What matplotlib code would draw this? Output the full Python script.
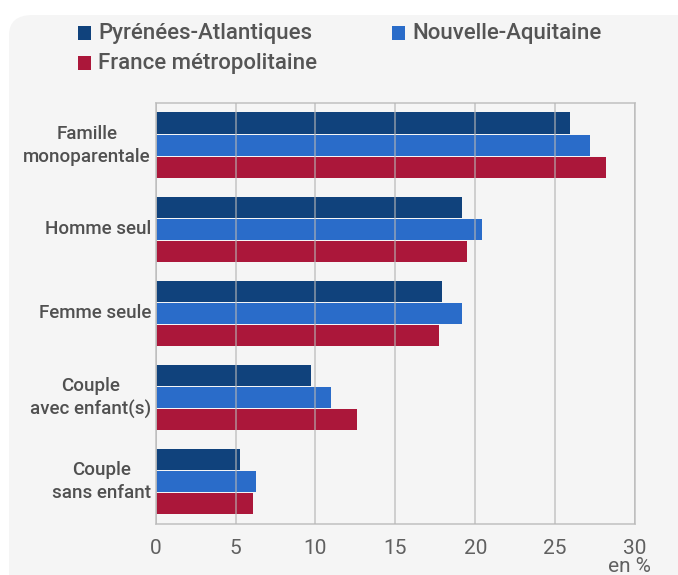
import matplotlib
matplotlib.use("Agg")
import matplotlib.pyplot as plt
from matplotlib.patches import FancyBboxPatch
import numpy as np

categories = ["Famille\nmonoparentale", "Homme seul", "Femme seule",
              "Couple\navec enfant(s)", "Couple\nsans enfant"]
series = ["Pyrénées-Atlantiques", "Nouvelle-Aquitaine", "France métropolitaine"]
pyr_atl = [25.9, 19.2, 17.9, 9.7, 5.3]
nouv_aq = [27.2, 20.4, 19.2, 11.0, 6.3]
france = [28.2, 19.5, 17.7, 12.6, 6.1]
colors = ["#10427c", "#2a6cc9", "#ab173a"]
xticks = [0, 5, 10, 15, 20, 25, 30]

plt.rcParams["font.family"] = ["Roboto", "DejaVu Sans"]

fig = plt.figure(figsize=(6.78, 5.75), dpi=100)
fig.patch.set_facecolor("white")
bg = FancyBboxPatch((9 / 678, -0.05), 1.2, 1.0 - 15 / 575 + 0.05,
                    boxstyle="round,pad=0,rounding_size=0.035",
                    transform=fig.transFigure, facecolor="#f5f5f5",
                    edgecolor="none", zorder=-5)
fig.patches.append(bg)

ax = fig.add_axes([0.2297, 0.0887, 0.7069, 0.7322])
ax.set_zorder(2)
ax.set_facecolor("#f5f5f5")

y = np.arange(len(categories))
h = 0.25
step = 0.262
for i, (vals, c) in enumerate(zip([pyr_atl, nouv_aq, france], colors)):
    ax.barh(y + (i - 1) * step, vals, height=h, color=c, zorder=2, label=series[i])

ax.set_xlim(0, 30)
ax.set_ylim(4.5, -0.5)
ax.set_xticks(xticks)
ax.xaxis.grid(True, color="#b4b4b4", linewidth=1.1, alpha=0.75, zorder=3)
ax.set_axisbelow(False)
for sp in ax.spines.values():
    sp.set_color("#c4c4c4")
    sp.set_linewidth(1.2)
ax.tick_params(axis="x", length=0, pad=11, labelsize=15, labelcolor="#606060")
ax.tick_params(axis="y", length=0)
ax.set_yticks(y)
ax.set_yticklabels([])
for yi, lab in zip(y, categories):
    ax.text(-0.01, yi, lab, transform=ax.get_yaxis_transform(), ha="right",
            va="center", multialignment="center", fontsize=13.5,
            fontweight="medium", color="#505050", linespacing=1.35)

fig.text(651 / 678, 1 - 567 / 575, "en %", ha="right", va="center",
         fontsize=15, color="#606060")

# legend
leg_pos = [(78, 33), (392, 33), (78, 63)]
for (px, py), name, c in zip(leg_pos, series, colors):
    fig.patches.append(plt.Rectangle((px / 678, 1 - (py + 7) / 575), 13 / 678, 14 / 575,
                                     transform=fig.transFigure, facecolor=c,
                                     edgecolor="none"))
    fig.text((px + 20) / 678, 1 - py / 575, name, ha="left", va="center",
             fontsize=16, fontweight="medium", color="#555555")

fig.savefig("out.png", dpi=100, facecolor="white")
